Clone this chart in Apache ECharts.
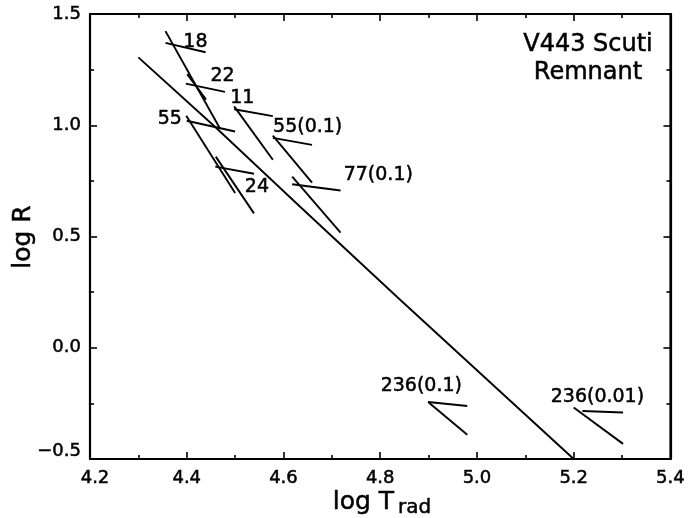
<!DOCTYPE html>
<html>
<head>
<meta charset="utf-8">
<script src="https://cdn.jsdelivr.net/npm/echarts@6/dist/echarts.min.js"></script>
<style>
  html, body { margin: 0; padding: 0; background: #fff; }
  #chart { width: 688px; height: 518px; }
</style>
</head>
<body>
<div id="chart"></div>
<script>
// Axis ranges and tick steps
const xRange = [4.2, 5.4];
const yRange = [-0.5, 1.5];
const xStep = 0.2;
const yStep = 0.5;

// Long remnant track (log T_rad, log R)
const trackX = [4.30, 4.46, 4.63, 4.84, 5.20];
const trackY = [1.305, 0.99, 0.643, 0.218, -0.50];

// Model labels, one per pair of short segments
const modelNames = ['18', '22', '11', '55', '24', '55(0.1)', '77(0.1)', '236(0.1)', '236(0.01)'];

// Steep segment of each model: [start, end]
const steepX = [[4.356, 4.469], [4.401, 4.440], [4.498, 4.578], [4.399, 4.500], [4.460, 4.539],
                [4.578, 4.659], [4.618, 4.718], [4.899, 4.980], [5.200, 5.302]];
const steepY = [[1.423, 0.984], [1.230, 1.115], [1.085, 0.845], [1.043, 0.695], [0.859, 0.604],
                [0.953, 0.742], [0.769, 0.517], [-0.244, -0.391], [-0.269, -0.432]];

// Shallow segment of each model: [start, end]
const shallowX = [[4.356, 4.439], [4.398, 4.479], [4.498, 4.578], [4.400, 4.500], [4.459, 4.539],
                  [4.578, 4.659], [4.618, 4.718], [4.899, 4.980], [5.218, 5.302]];
const shallowY = [[1.370, 1.328], [1.187, 1.150], [1.072, 1.041], [1.020, 0.972], [0.814, 0.782],
                  [0.943, 0.912], [0.735, 0.707], [-0.244, -0.262], [-0.284, -0.291]];

// Label anchor (centre of text) for each model
const labelX = [4.418, 4.474, 4.515, 4.365, 4.545, 4.650, 4.796, 4.885, 5.249];
const labelY = [1.376, 1.221, 1.122, 1.027, 0.721, 0.991, 0.775, -0.171, -0.221];

const FONT = 'DejaVu Sans';
const INK = '#000';
// thin outline in the ink colour gives the lettering a slightly heavier stroke
const HEAVY = { textBorderColor: INK, textBorderWidth: 0.5 };

function fmtY(v) {
  const s = (v < 0 ? '\u2212' : '') + Math.abs(v).toFixed(1);
  return Math.abs(v - yRange[0]) < 1e-9 ? '{lo|' + s + '}' : s;
}
function fmtX(v) {
  const s = v.toFixed(1);
  return Math.abs(v - xRange[0]) < 1e-9 ? '{lf|' + s + '}' : s;
}

const tickStyle = { show: true, inside: true, length: 7, lineStyle: { color: INK, width: 1.6 } };
const minorStyle = { show: true, splitNumber: 2, length: 4, lineStyle: { color: INK, width: 1.6 } };
const lineStyleAxis = { show: true, onZero: false, lineStyle: { color: INK, width: 2.2 } };

function segSeries(xs, ys) {
  return xs.map((xp, i) => ({
    type: 'line',
    data: [[xp[0], ys[i][0]], [xp[1], ys[i][1]]],
    showSymbol: false,
    symbol: 'none',
    silent: true,
    lineStyle: { color: INK, width: 1.9 },
    z: 3
  }));
}

const series = [
  {
    type: 'line',
    data: trackX.map((x, i) => [x, trackY[i]]),
    symbol: 'none',
    silent: true,
    lineStyle: { color: INK, width: 1.9 },
    z: 3
  },
  ...segSeries(steepX, steepY),
  ...segSeries(shallowX, shallowY),
  {
    type: 'scatter',
    symbolSize: 0,
    silent: true,
    itemStyle: { opacity: 1, color: INK },
    data: modelNames.map((n, i) => ({ name: n, value: [labelX[i], labelY[i]] })),
    label: Object.assign({
      show: true,
      position: 'inside',
      formatter: p => p.name,
      color: INK,
      fontFamily: FONT,
      fontSize: 19
    }, HEAVY),
    z: 4
  }
];

const chart = echarts.init(document.getElementById('chart'), null, { renderer: 'canvas' });
chart.setOption({
  animation: false,
  backgroundColor: '#fff',
  grid: {
    left: 90, right: 15, top: 14, bottom: 59, containLabel: false,
    show: true, borderColor: INK, borderWidth: 2, backgroundColor: 'transparent'
  },
  xAxis: [
    {
      type: 'value', position: 'bottom', min: xRange[0], max: xRange[1], interval: xStep,
      axisLine: lineStyleAxis, axisTick: tickStyle, minorTick: minorStyle,
      splitLine: { show: false },
      axisLabel: Object.assign({
        color: INK, fontFamily: FONT, fontSize: 18, margin: 10, formatter: fmtX,
        rich: { lf: Object.assign({ fontFamily: FONT, fontSize: 18, color: INK, padding: [0, 0, 0, 10] }, HEAVY) }
      }, HEAVY)
    },
    {
      type: 'value', position: 'top', min: xRange[0], max: xRange[1], interval: xStep,
      axisLine: lineStyleAxis, axisTick: tickStyle, minorTick: minorStyle,
      splitLine: { show: false }, axisLabel: { show: false }
    }
  ],
  yAxis: [
    {
      type: 'value', position: 'left', min: yRange[0], max: yRange[1], interval: yStep,
      axisLine: lineStyleAxis, axisTick: tickStyle, minorTick: minorStyle,
      splitLine: { show: false },
      axisLabel: Object.assign({
        color: INK, fontFamily: FONT, fontSize: 18, margin: 9, formatter: fmtY,
        rich: { lo: Object.assign({ fontFamily: FONT, fontSize: 18, color: INK, padding: [0, 0, 16, 0] }, HEAVY) }
      }, HEAVY)
    },
    {
      type: 'value', position: 'right', min: yRange[0], max: yRange[1], interval: yStep,
      axisLine: lineStyleAxis, axisTick: tickStyle, minorTick: minorStyle,
      splitLine: { show: false }, axisLabel: { show: false }
    }
  ],
  graphic: [
    {
      // panel title, top right
      type: 'text',
      x: 588, y: 31,
      style: {
        text: 'V443 Scuti\nRemnant',
        textAlign: 'center',
        textVerticalAlign: 'top',
        font: '24px "DejaVu Sans"',
        lineHeight: 28,
        fill: INK,
        stroke: INK,
        lineWidth: 0.5
      }
    },
    {
      // x-axis title with subscript
      type: 'text',
      x: 382, y: 490,
      style: {
        text: '{a|log T}{b|rad}',
        textAlign: 'center',
        textVerticalAlign: 'top',
        rich: {
          a: { fontFamily: FONT, fontSize: 25, fill: INK, stroke: INK, lineWidth: 0.5, verticalAlign: 'bottom', padding: [0, 2, 3, 0] },
          b: { fontFamily: FONT, fontSize: 20, fill: INK, stroke: INK, lineWidth: 0.5, verticalAlign: 'bottom', padding: [0, 0, 0, 2] }
        }
      }
    },
    {
      // y-axis title, rotated
      type: 'text',
      x: 23, y: 237,
      rotation: Math.PI / 2,
      style: {
        text: 'log R',
        textAlign: 'center',
        textVerticalAlign: 'middle',
        font: '25px "DejaVu Sans"',
        fill: INK,
        stroke: INK,
        lineWidth: 0.5
      }
    }
  ],
  series: series
});
</script>
</body>
</html>
